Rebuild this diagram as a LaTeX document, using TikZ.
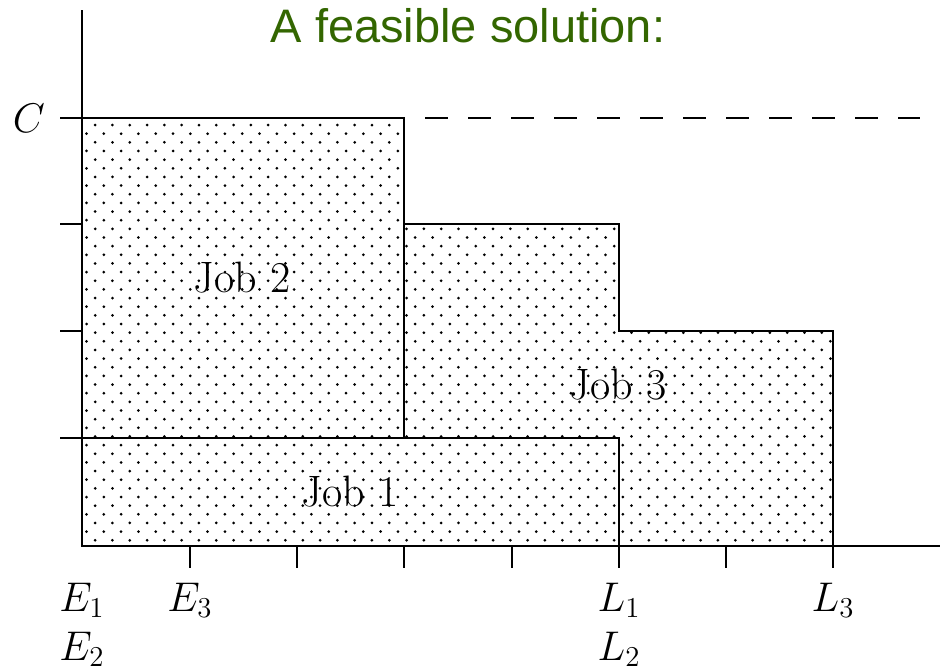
\documentclass[tikz,border=0pt]{standalone}
\usepackage{fontspec}
\newfontfamily\titlefont{Liberation Sans}
\usetikzlibrary{patterns}
\pgfdeclarepatternformonly{jobdots}{\pgfpoint{-1pt}{-1pt}}{\pgfpoint{9.65pt}{9.65pt}}{\pgfpoint{8.65pt}{8.65pt}}{%
  \pgfpathcircle{\pgfpoint{0pt}{0pt}}{0.75pt}
  \pgfpathcircle{\pgfpoint{4.325pt}{4.325pt}}{0.75pt}
  \pgfusepath{fill}}
\definecolor{titlegreen}{RGB}{51,102,0}
\tikzset{
  job/.style={pattern=jobdots, draw=black, line width=1.4pt},
  axis/.style={line width=1.3pt},
  lbl/.style={font=\fontsize{21.5}{26}\selectfont, anchor=base, inner sep=0pt},
  jlbl/.style={font=\fontsize{22}{26}\selectfont, anchor=base, inner sep=0pt},
}
\begin{document}
\begin{tikzpicture}[x=0.5pt,y=-0.5pt]
\useasboundingbox (0,0) rectangle (941,670);
% jobs
\draw[job] (404,438) -- (404,224) -- (619,224) -- (619,331) -- (833,331) -- (833,546) -- (619,546) -- (619,438) -- cycle;
\draw[job] (82,118) rectangle (404,438);
\draw[job] (82,438) rectangle (619,546);
% axes
\draw[axis] (82,10) -- (82,546) -- (940,546);
% y ticks
\foreach \y in {118,224,331,438} \draw[axis] (60,\y) -- (82,\y);
% x ticks
\foreach \x in {190,297,404,512,619,726,833} \draw[axis] (\x,546) -- (\x,568);
% dashed capacity line
\draw[axis, dash pattern=on 11.5pt off 10pt] (425,118) -- (920,118);
% labels
\node[jlbl] (job2) at (242,292) {Job 2};
\node[jlbl] (job3) at (618,399) {Job 3};
\node[jlbl] (job1) at (350,506) {Job 1};
\node[lbl] (c) at (29,132) {$C$};
\node[lbl] (e1) at (82,611) {$E_1$};
\node[lbl] (e2) at (82,660) {$E_2$};
\node[lbl] (e3) at (190,611) {$E_3$};
\node[lbl] (l1) at (619,611) {$L_1$};
\node[lbl] (l2) at (619,660) {$L_2$};
\node[lbl] (l3) at (833,611) {$L_3$};
\node[anchor=base, inner sep=0pt, text=titlegreen, font=\titlefont\fontsize{23.5}{28}\selectfont] (title) at (468,42) {A feasible solution:};
\end{tikzpicture}
\end{document}
